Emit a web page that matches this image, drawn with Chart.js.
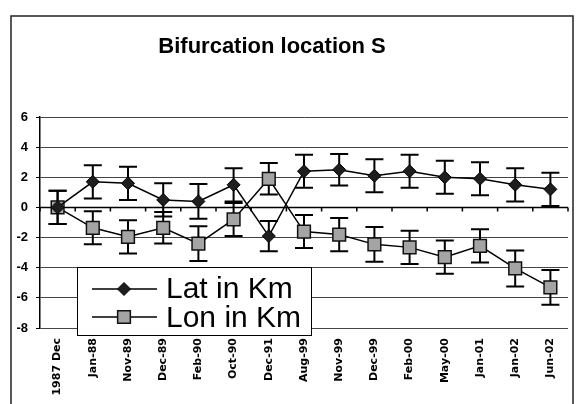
<!DOCTYPE html>
<html>
<head>
<meta charset="utf-8">
<script src="https://cdn.jsdelivr.net/npm/chart.js@4"></script>
<style>
  html, body { margin: 0; padding: 0; background: #fff; }
  #wrap { width: 581px; height: 404px; position: relative; }
</style>
</head>
<body>
<div id="wrap"><canvas id="chart"></canvas></div>
<script>
// Bifurcation location S - lat/lon offsets with error bars
const categories = ['1987 Dec', 'Jan-88', 'Nov-89', 'Dec-89', 'Feb-90', 'Oct-90', 'Dec-91',
  'Aug-99', 'Nov-99', 'Dec-99', 'Feb-00', 'May-00', 'Jan-01', 'Jan-02', 'Jun-02'];
const latValues = [0, 1.7, 1.6, 0.5, 0.4, 1.5, -1.9, 2.4, 2.5, 2.1, 2.4, 2.0, 1.9, 1.5, 1.2];
const latErrors = [1.1, 1.1, 1.1, 1.1, 1.15, 1.1, 1.0, 1.1, 1.05, 1.1, 1.1, 1.1, 1.1, 1.1, 1.1];
const lonValues = [0, -1.35, -1.95, -1.35, -2.4, -0.8, 1.9, -1.6, -1.8, -2.45, -2.65, -3.3, -2.55, -4.05, -5.3];
const lonErrors = [1.1, 1.1, 1.1, 1.05, 1.15, 1.1, 1.05, 1.1, 1.1, 1.15, 1.1, 1.1, 1.1, 1.2, 1.15];
const yTicks = [6, 4, 2, 0, -2, -4, -6, -8];

const FONT = "'Liberation Sans', Arial, sans-serif";

const errorBars = {
  id: 'errorBars',
  beforeDatasetsDraw(chart) {
    const { ctx, scales: { x, y }, chartArea } = chart;
    // category axis crossing at zero, with tick marks between categories
    const y0 = y.getPixelForValue(0);
    const half = (x.getPixelForValue(1) - x.getPixelForValue(0)) / 2;
    ctx.save();
    ctx.strokeStyle = '#000';
    ctx.lineWidth = 1.5;
    ctx.beginPath();
    ctx.moveTo(chartArea.left, y0);
    ctx.lineTo(chartArea.right, y0);
    for (let i = 0; i <= categories.length; i++) {
      const px = x.getPixelForValue(i) - half;
      ctx.moveTo(px, y0);
      ctx.lineTo(px, y0 + 4);
    }
    ctx.stroke();

    const sets = [[latValues, latErrors], [lonValues, lonErrors]];
    ctx.lineWidth = 2;
    sets.forEach(([vals, errs]) => {
      vals.forEach((v, i) => {
        const px = x.getPixelForValue(i);
        const top = y.getPixelForValue(v + errs[i]);
        const bot = y.getPixelForValue(v - errs[i]);
        ctx.beginPath();
        ctx.moveTo(px, top);
        ctx.lineTo(px, bot);
        ctx.moveTo(px - 9, top);
        ctx.lineTo(px + 9, top);
        ctx.moveTo(px - 9, bot);
        ctx.lineTo(px + 9, bot);
        ctx.stroke();
      });
    });
    ctx.restore();
  }
};

const frame = {
  id: 'frame',
  afterDraw(chart) {
    const { ctx } = chart;
    ctx.save();
    // outer border
    ctx.strokeStyle = '#222';
    ctx.lineWidth = 1.5;
    ctx.strokeRect(11, 16, 562, 400);

    // title
    ctx.fillStyle = '#000';
    ctx.font = `bold 22px ${FONT}`;
    ctx.textAlign = 'center';
    ctx.textBaseline = 'alphabetic';
    ctx.fillText('Bifurcation location S', 272, 53);

    // legend box
    ctx.fillStyle = '#fff';
    ctx.fillRect(77, 267, 234, 68);
    ctx.strokeStyle = '#000';
    ctx.lineWidth = 1;
    ctx.strokeRect(77.5, 267.5, 234, 68);

    const entries = [
      { ds: chart.data.datasets[0], y: 289, base: 298 },
      { ds: chart.data.datasets[1], y: 317, base: 327 }
    ];
    entries.forEach(({ ds, y, base }) => {
      ctx.strokeStyle = '#000';
      ctx.lineWidth = 1.5;
      ctx.beginPath();
      ctx.moveTo(92, y);
      ctx.lineTo(157, y);
      ctx.stroke();
      ctx.fillStyle = ds.pointBackgroundColor;
      ctx.strokeStyle = ds.pointBorderColor;
      ctx.lineWidth = ds.pointBorderWidth;
      Chart.helpers.drawPoint(ctx, {
        pointStyle: ds.pointStyle,
        radius: ds.pointRadius,
        rotation: 0,
        borderWidth: ds.pointBorderWidth
      }, 124, y);
      ctx.fillStyle = '#000';
      ctx.font = `30px ${FONT}`;
      ctx.textAlign = 'left';
      ctx.fillText(ds.label, 166, base);
    });
    ctx.restore();
  }
};

new Chart(document.getElementById('chart'), {
  type: 'line',
  data: {
    labels: categories,
    datasets: [
      {
        label: 'Lat in Km',
        data: latValues,
        borderColor: '#000',
        borderWidth: 1.5,
        pointStyle: 'rectRot',
        pointRadius: 6.5,
        pointBackgroundColor: '#1e1e1e',
        pointBorderColor: '#000',
        pointBorderWidth: 1,
        tension: 0
      },
      {
        label: 'Lon in Km',
        data: lonValues,
        borderColor: '#000',
        borderWidth: 1.5,
        pointStyle: 'rect',
        pointRadius: 9,
        pointBackgroundColor: '#a4a4a4',
        pointBorderColor: '#111',
        pointBorderWidth: 1.5,
        tension: 0
      }
    ]
  },
  options: {
    responsive: true,
    maintainAspectRatio: false,
    animation: false,
    layout: { padding: { left: 11, right: 13, top: 117, bottom: 0 } },
    plugins: {
      legend: { display: false },
      title: { display: false },
      tooltip: { enabled: false }
    },
    scales: {
      x: {
        offset: true,
        grid: { display: false, drawTicks: false },
        border: { display: false },
        ticks: {
          autoSkip: false,
          minRotation: 90,
          maxRotation: 90,
          padding: 10,
          color: '#000',
          font: { family: "'DejaVu Sans', sans-serif", size: 11, weight: 'bold' }
        },
        afterFit: (scale) => { scale.height = 76; }
      },
      y: {
        min: -8,
        max: 6,
        afterBuildTicks: (scale) => { scale.ticks = yTicks.map((v) => ({ value: v })); },
        grid: { color: '#444', lineWidth: 1, tickLength: 4, tickColor: '#000' },
        border: { display: true, color: '#000', width: 1.5 },
        ticks: {
          padding: 8,
          color: '#000',
          font: { family: FONT, size: 13, weight: 'bold' }
        },
        afterFit: (scale) => { scale.width = 29; }
      }
    }
  },
  plugins: [errorBars, frame]
});
</script>
</body>
</html>
